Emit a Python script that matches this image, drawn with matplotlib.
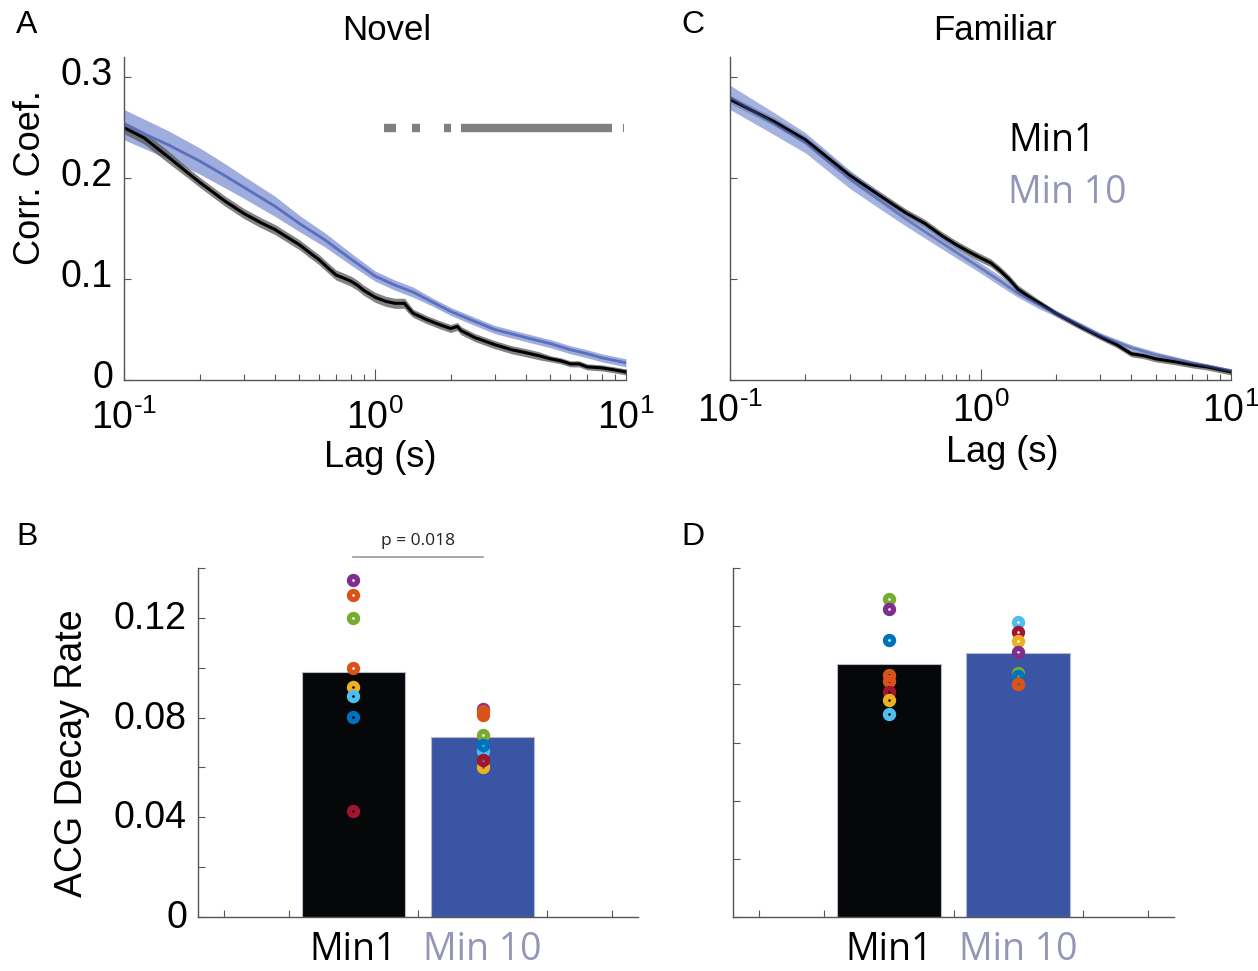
import numpy as np
import matplotlib
matplotlib.use("Agg")
import matplotlib.pyplot as plt
from matplotlib import font_manager
from matplotlib.ticker import LogLocator, NullFormatter, FixedLocator, FuncFormatter
from matplotlib.transforms import ScaledTranslation

installed = {f.name for f in font_manager.fontManager.ttflist}
base_font = "Liberation Sans Narrow" if "Liberation Sans Narrow" in installed else "Liberation Sans"
plt.rcParams['font.family'] = [base_font, 'DejaVu Sans']
plt.rcParams['mathtext.fontset'] = 'custom'
plt.rcParams['mathtext.rm'] = base_font
label_font = ['Open Sans', 'DejaVu Sans']

# ---------------- data: autocorrelation, novel ----------------
lag_nov_min1 = [0.1, 0.12, 0.15, 0.18, 0.2, 0.25, 0.3, 0.35, 0.4, 0.45, 0.5, 0.55, 0.6, 0.65,
                0.7, 0.75, 0.8, 0.85, 0.9, 1.0, 1.1, 1.2, 1.31, 1.35, 1.42, 1.6, 1.8, 2.0,
                2.13, 2.2, 2.5, 3.0, 3.5, 4.0, 4.5, 5.0, 5.5, 6.0, 6.5, 7.0, 8.0, 9.0, 10.0]
acg_nov_min1 = [0.250, 0.240, 0.221, 0.205, 0.196, 0.178, 0.165, 0.156, 0.149, 0.141, 0.134,
                0.126, 0.119, 0.111, 0.104, 0.101, 0.098, 0.094, 0.089, 0.082, 0.078, 0.076,
                0.076, 0.072, 0.066, 0.060, 0.055, 0.051, 0.053, 0.049, 0.042, 0.035, 0.030,
                0.027, 0.024, 0.021, 0.019, 0.016, 0.016, 0.013, 0.012, 0.010, 0.008]
sem_nov_min1 = [0.006, 0.006, 0.006, 0.005, 0.005, 0.005, 0.005, 0.005, 0.005, 0.005, 0.005,
                0.005, 0.005, 0.005, 0.005, 0.005, 0.005, 0.005, 0.005, 0.005, 0.005, 0.005,
                0.005, 0.005, 0.004, 0.004, 0.004, 0.004, 0.004, 0.004, 0.004, 0.004, 0.004,
                0.004, 0.004, 0.003, 0.003, 0.003, 0.003, 0.003, 0.003, 0.003, 0.003]

lag_nov_min10 = [0.1, 0.15, 0.2, 0.25, 0.3, 0.4, 0.5, 0.63, 0.8, 1.0, 1.2, 1.42, 1.7, 2.0,
                 2.5, 3.0, 4.0, 5.0, 6.0, 7.0, 8.0, 10.0]
acg_nov_min10 = [0.253, 0.233, 0.217, 0.203, 0.191, 0.172, 0.155, 0.139, 0.120, 0.103, 0.094,
                 0.087, 0.077, 0.068, 0.058, 0.050, 0.042, 0.036, 0.030, 0.026, 0.022, 0.017]
sem_nov_min10 = [0.015, 0.014, 0.013, 0.012, 0.011, 0.010, 0.008, 0.007, 0.006, 0.005, 0.005,
                 0.005, 0.004, 0.004, 0.004, 0.004, 0.004, 0.004, 0.004, 0.004, 0.004, 0.004]

# significance segments (lag ranges) for novel panel
sig_start = [1.09, 1.40, 1.89, 2.2, 9.75]
sig_end = [1.21, 1.51, 2.00, 8.8, 9.85]
sig_level = 0.25

# ---------------- data: autocorrelation, familiar ----------------
lag_fam_min1 = [0.1, 0.15, 0.2, 0.3, 0.4, 0.5, 0.6, 0.7, 0.8, 0.9, 1.0, 1.1, 1.19, 1.3,
                1.41, 1.55, 1.7, 2.0, 2.5, 3.0, 3.5, 4.0, 4.5, 5.0, 6.0, 7.0, 8.0, 10.0]
acg_fam_min1 = [0.278, 0.256, 0.238, 0.203, 0.182, 0.166, 0.155, 0.143, 0.134, 0.127,
                0.121, 0.116, 0.109, 0.100, 0.090, 0.083, 0.077, 0.066, 0.053, 0.043, 0.035,
                0.026, 0.024, 0.021, 0.018, 0.015, 0.013, 0.008]
sem_fam_min1 = [0.004, 0.004, 0.004, 0.004, 0.004, 0.004, 0.004, 0.004, 0.004, 0.004,
                0.004, 0.004, 0.004, 0.004, 0.004, 0.004, 0.003, 0.003, 0.003, 0.003, 0.003,
                0.003, 0.003, 0.003, 0.003, 0.003, 0.003, 0.003]

lag_fam_min10 = [0.1, 0.15, 0.2, 0.3, 0.4, 0.5, 0.7, 1.0, 1.2, 1.41, 1.7, 2.0, 2.5, 3.0, 4.0,
                 5.0, 7.0, 10.0]
acg_fam_min10 = [0.280, 0.254, 0.235, 0.199, 0.177, 0.160, 0.136, 0.111, 0.098, 0.086,
                 0.075, 0.066, 0.054, 0.044, 0.032, 0.025, 0.017, 0.009]
sem_fam_min10 = [0.012, 0.011, 0.010, 0.009, 0.008, 0.007, 0.006, 0.005, 0.005, 0.004,
                 0.004, 0.003, 0.003, 0.003, 0.003, 0.003, 0.002, 0.002]

# ---------------- data: decay rates ----------------
groups = ["Min1", "Min 10"]
dot_colors = ["#7E2F8E", "#D95319", "#77AC30", "#D95319", "#EDB120", "#4DBEEE", "#0072BD", "#A2142F"]

nov_bar = [0.0983, 0.0723]
nov_min1 = [0.135, 0.129, 0.120, 0.0998, 0.0924, 0.0886, 0.0801, 0.0424]
nov_min10 = [0.0836, 0.0809, 0.0732, 0.0825, 0.0601, 0.0667, 0.0691, 0.0631]
p_text = "p = 0.018"

fam_bar = [0.0870, 0.0908]
fam_dot_colors = ["#77AC30", "#7E2F8E", "#0072BD", "#D95319", "#D95319", "#A2142F", "#EDB120", "#4DBEEE"]
fam_min1 = [0.1093, 0.1059, 0.0951, 0.0833, 0.0810, 0.0774, 0.0746, 0.0698]
fam_min10_colors = ["#4DBEEE", "#A2142F", "#EDB120", "#7E2F8E", "#77AC30", "#0072BD", "#D95319", "#D95319"]
fam_min10 = [0.1013, 0.0981, 0.0948, 0.0911, 0.0839, 0.0827, 0.0802, 0.0802]

black = "#050708"
blue_bar = "#3A55A4"
blue_line = "#5A6FBE"
blue_fill = "#7E92D2"
min10_text = "#9396B6"
axis_gray = "#555555"

W, H = 1258, 971
fig = plt.figure(figsize=(W / 100, H / 100), dpi=100)


def px_axes(l, t, r, b):
    return fig.add_axes([l / W, 1 - b / H, (r - l) / W, (b - t) / H])


def style(ax):
    for s in ["top", "right"]:
        ax.spines[s].set_visible(False)
    for s in ["left", "bottom"]:
        ax.spines[s].set_color(axis_gray)
        ax.spines[s].set_linewidth(1.0)
    ax.tick_params(which="both", direction="in", color=axis_gray, width=0.8)
    ax.tick_params(which="major", length=5, labelsize=27, pad=8)
    ax.tick_params(which="minor", length=4)


def log_label(v, pos):
    e = int(round(np.log10(v)))
    if e < 0:
        return r"$\mathregular{10^{\text{-}%d}}$" % (-e)
    return r"$\mathregular{10^{%d}}$" % e


def acg_panel(ax, lag1, m1, s1, lag10, m10, s10, black_on_top=True, xpad=14):
    lag1, m1, s1 = np.array(lag1), np.array(m1), np.array(s1)
    lag10, m10, s10 = np.array(lag10), np.array(m10), np.array(s10)
    if black_on_top:
        ax.fill_between(lag10, m10 - s10, m10 + s10, color=blue_fill, alpha=0.75, lw=0)
        ax.plot(lag10, m10, color=blue_line, lw=2)
        ax.fill_between(lag1, m1 - s1, m1 + s1, color="#5a5a5a", alpha=0.75, lw=0)
        ax.plot(lag1, m1, color="black", lw=2.2)
    else:
        ax.fill_between(lag1, m1 - s1, m1 + s1, color="#5a5a5a", alpha=0.75, lw=0)
        ax.plot(lag1, m1, color="black", lw=2.2)
        ax.fill_between(lag10, m10 - s10, m10 + s10, color=blue_fill, alpha=0.7, lw=0)
        ax.plot(lag10, m10, color="#3C4E9C", lw=2, alpha=0.55)
    ax.set_xscale("log")
    ax.set_xlim(0.1, 10)
    ax.set_ylim(0, 0.32)
    ax.xaxis.set_major_locator(LogLocator(base=10, numticks=5))
    ax.xaxis.set_major_formatter(FuncFormatter(log_label))
    ax.xaxis.set_minor_locator(LogLocator(base=10, subs=np.arange(2, 10), numticks=20))
    ax.xaxis.set_minor_formatter(NullFormatter())
    ax.set_yticks([0, 0.1, 0.2, 0.3])
    style(ax)
    ax.tick_params(axis="x", which="major", length=8, pad=xpad)


def lift_ylabels(ax, dy):
    for lab in ax.get_yticklabels():
        lab.set_transform(lab.get_transform() + ScaledTranslation(0, dy / 100, fig.dpi_scale_trans))


# ---- A: novel ----
axA = px_axes(124, 57, 626, 380)
acg_panel(axA, lag_nov_min1, acg_nov_min1, sem_nov_min1, lag_nov_min10, acg_nov_min10, sem_nov_min10)
axA.set_yticklabels(["0", "0.1", "0.2", "0.3"])
axA.hlines([sig_level] * len(sig_start), sig_start, sig_end, color="#808080", lw=6, capstyle="butt")
lift_ylabels(axA, 6)

# ---- C: familiar ----
axC = px_axes(730, 57, 1231, 380)
acg_panel(axC, lag_fam_min1, acg_fam_min1, sem_fam_min1, lag_fam_min10, acg_fam_min10, sem_fam_min10,
          black_on_top=False, xpad=9)
axC.set_yticklabels([])
axC.text(0.555, 0.74, "Min1", transform=axC.transAxes, fontsize=27, color="black",
         family=label_font, ha="left", va="center")
axC.text(0.555, 0.58, "Min 10", transform=axC.transAxes, fontsize=27, color=min10_text,
         family=label_font, ha="left", va="center")


def bar_panel(ax, bars, d1, c1, d10, c10, ymax, labels_every):
    xpos = [1, 2]
    ax.bar(xpos, bars, width=0.8, color=[black, blue_bar], edgecolor="#b8b8c8", linewidth=0.8)
    for x, vals, cols in [(1, d1, c1), (2, d10, c10)]:
        for v, c in zip(vals, cols):
            ax.plot(x, v, marker="o", ms=5.8, mfc="none", mec=c, mew=3.8, ls="none")
    ax.set_xlim(-0.2, 3.2)
    ax.set_ylim(0, ymax)
    ax.xaxis.set_major_locator(FixedLocator([0, 0.5, 1.5, 2.5, 3]))
    ax.set_xticklabels([])
    style(ax)
    yt = np.arange(0, ymax + 1e-9, 0.02)
    ax.set_yticks(yt)
    if labels_every:
        ax.set_yticklabels(["0" if i == 0 else (f"{v:.2f}" if i % 2 == 0 else "") for i, v in enumerate(yt)])
    else:
        ax.set_yticklabels([])
    ax.text(1, -0.095, groups[0], transform=ax.get_xaxis_transform(), ha="center", va="center",
            fontsize=27, color="black", family=label_font)
    ax.text(2, -0.095, groups[1], transform=ax.get_xaxis_transform(), ha="center", va="center",
            fontsize=27, color=min10_text, family=label_font)


# ---- B: novel decay ----
axB = px_axes(198, 568, 638, 917)
bar_panel(axB, nov_bar, nov_min1, dot_colors, nov_min10, dot_colors, 0.14, True)
axB.plot([1, 2], [0.1445, 0.1445], color="#999999", lw=1.2, clip_on=False)
axB.text(1.5, 0.1475, p_text, ha="center", va="bottom", fontsize=12.5, family=label_font,
         color="#222222")
lift_ylabels(axB, 3)

# ---- D: familiar decay ----
axD = px_axes(733, 568, 1174, 917)
bar_panel(axD, fam_bar, fam_min1, fam_dot_colors, fam_min10, fam_min10_colors, 0.12, False)

# ---- labels ----
fig.text(387 / W, 1 - 30 / H, "Novel", ha="center", va="center", fontsize=25)
fig.text(995 / W, 1 - 30 / H, "Familiar", ha="center", va="center", fontsize=25)
fig.text(380 / W, 1 - 457 / H, "Lag (s)", ha="center", va="center", fontsize=26)
fig.text(1002 / W, 1 - 453 / H, "Lag (s)", ha="center", va="center", fontsize=26)
fig.text(30 / W, 1 - 178 / H, "Corr. Coef.", ha="center", va="center", fontsize=26, rotation=90)
fig.text(72 / W, 1 - 753 / H, "ACG Decay Rate", ha="center", va="center", fontsize=27, rotation=90)
for letter, x, y in [("A", 27, 25), ("C", 693, 25), ("B", 27, 537), ("D", 693, 537)]:
    fig.text(x / W, 1 - y / H, letter, ha="center", va="center", fontsize=23)

fig.savefig("out.png", dpi=100)
